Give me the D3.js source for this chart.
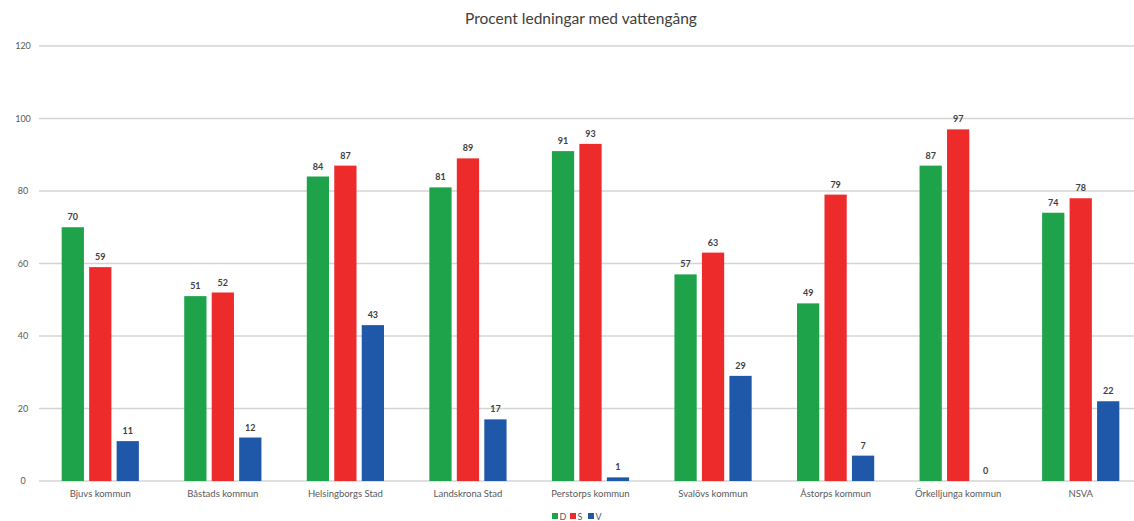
<!DOCTYPE html>
<html><head><meta charset="utf-8">
<script src="https://cdn.jsdelivr.net/npm/d3@7"></script>
<style>body{margin:0;background:#fff;}svg{display:block;font-family:Lato,"Open Sans",sans-serif;}</style>
</head><body><svg id="c" width="1134" height="521"></svg>
<script>
const categories = ["Bjuvs kommun","Båstads kommun","Helsingborgs Stad","Landskrona Stad","Perstorps kommun","Svalövs kommun","Åstorps kommun","Örkelljunga kommun","NSVA"];
const seriesNames = ["D","S","V"];
const valuesD = [70,51,84,81,91,57,49,87,74];
const valuesS = [59,52,87,89,93,63,79,97,78];
const valuesV = [11,12,43,17,1,29,7,0,22];
const yTicks = [0,20,40,60,80,100,120];
const colors = ["#1ea34a","#ee2b2b","#1f58a8"];

const series = [valuesD, valuesS, valuesV];
const svg = d3.select("#c");
const x0 = d3.scaleBand().domain(categories).range([39, 1142]).paddingInner(0.37).paddingOuter(0.185);
const x1 = d3.scaleBand().domain(seriesNames).range([0, x0.bandwidth()]).paddingInner(0.19);
const y = d3.scaleLinear().domain([0,120]).range([481,46]);

svg.append("g").selectAll("line").data(yTicks).join("line")
  .attr("x1",39).attr("x2",1134).attr("y1",d=>y(d)).attr("y2",d=>y(d))
  .attr("stroke","#d4d4d4").attr("stroke-width",1.3);
svg.append("g").selectAll("text").data(yTicks).join("text")
  .attr("x",23).attr("y",d=>y(d)+3).attr("text-anchor","middle")
  .attr("font-size",9).attr("fill","#595959").text(d=>d);

const g = svg.append("g");
categories.forEach((c,i)=>{
  seriesNames.forEach((s,j)=>{
    const v = series[j][i];
    const bx = x0(c)+x1(s);
    g.append("rect").attr("x",bx).attr("width",x1.bandwidth())
      .attr("y",y(v)).attr("height",y(0)-y(v)).attr("fill",colors[j]);
    g.append("text").attr("x",bx+x1.bandwidth()/2).attr("y",y(v)-7)
      .attr("text-anchor","middle").attr("font-size",9).attr("font-weight","bold")
      .attr("fill","#404040").text(v);
  });
  svg.append("text").attr("x",x0(c)+x0.bandwidth()/2).attr("y",497)
    .attr("text-anchor","middle").attr("font-size",9.5).attr("fill","#595959").text(c);
});

svg.append("text").attr("x",581).attr("y",24).attr("text-anchor","middle")
  .attr("font-size",15.5).attr("fill","#404040").text("Procent ledningar med vattengång");

const lg = svg.append("g");
const lx = [552,570,588];
seriesNames.forEach((s,j)=>{
  lg.append("rect").attr("x",lx[j]).attr("y",513).attr("width",6).attr("height",6).attr("fill",colors[j]);
  lg.append("text").attr("x",lx[j]+7.5).attr("y",519.5).attr("font-size",9).attr("fill","#595959").text(s);
});
</script></body></html>
